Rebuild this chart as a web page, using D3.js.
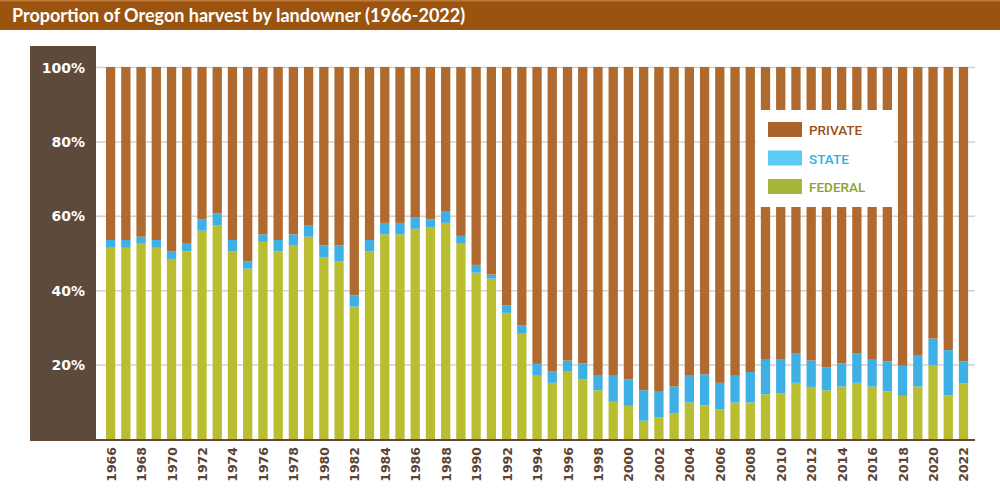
<!DOCTYPE html>
<html>
<head>
<meta charset="utf-8">
<script src="https://cdn.jsdelivr.net/npm/d3@7"></script>
<style>
  body { margin: 0; background: #ffffff; }
</style>
</head>
<body>
<div id="chart"></div>
<script>
// harvest share by landowner, percent of total
const years = [1966, 1967, 1968, 1969, 1970, 1971, 1972, 1973, 1974, 1975,
  1976, 1977, 1978, 1979, 1980, 1981, 1982, 1983, 1984, 1985,
  1986, 1987, 1988, 1989, 1990, 1991, 1992, 1993, 1994, 1995,
  1996, 1997, 1998, 1999, 2000, 2001, 2002, 2003, 2004, 2005,
  2006, 2007, 2008, 2009, 2010, 2011, 2012, 2013, 2014, 2015,
  2016, 2017, 2018, 2019, 2020, 2021, 2022]

const federal = [51.4, 51.4, 52.5, 51.4, 48.4, 50.4, 56.0, 57.5, 50.4, 45.8,
  53.0, 50.4, 52.0, 54.4, 48.9, 47.8, 35.6, 50.4, 55.0, 55.0,
  56.5, 57.0, 58.1, 52.5, 44.7, 43.1, 33.9, 28.3, 17.0, 15.1,
  18.1, 16.1, 13.1, 10.0, 8.9, 4.9, 5.8, 6.9, 9.8, 9.0,
  7.9, 9.8, 9.8, 12.0, 12.2, 15.1, 14.0, 13.1, 14.1, 15.1,
  14.1, 12.8, 11.6, 14.1, 19.9, 11.8, 14.9]

const state = [2.1, 2.1, 1.9, 2.1, 2.0, 2.1, 3.0, 3.1, 3.1, 2.0,
  2.0, 3.1, 3.0, 3.1, 3.1, 4.2, 3.0, 3.1, 3.1, 3.1,
  3.0, 2.0, 3.0, 2.1, 2.1, 1.1, 2.0, 2.2, 3.2, 3.0,
  3.0, 4.2, 4.1, 7.2, 7.1, 8.2, 7.1, 7.2, 7.2, 8.4,
  7.2, 7.2, 8.2, 9.3, 9.3, 8.0, 7.1, 6.2, 6.2, 8.0,
  7.2, 8.1, 8.1, 8.3, 7.1, 12.1, 6.0]

const seriesKeys = ["FEDERAL", "STATE", "PRIVATE"]
const legendKeys = ["PRIVATE", "STATE", "FEDERAL"]
const yTicks = [20, 40, 60, 80, 100]
const xTicks = years.filter(function(y) { return y % 2 == 0 })

const W = 1000, H = 503

let svg = d3.select("#chart")
  .append("svg")
  .attr("width", W)
  .attr("height", H)
  .style("display", "block")

// title band
svg.append("rect")
  .attr("x", 0).attr("y", 0)
  .attr("width", W).attr("height", 30)
  .style("fill", "#9b5410")
svg.append("rect")
  .attr("x", 0).attr("y", 0)
  .attr("width", W).attr("height", 1.5)
  .style("fill", "#c07a3a")
svg.append("text")
  .attr("x", 12)
  .attr("y", 22)
  .style("fill", "#ffffff")
  .style("font-family", "Lato, 'Open Sans', sans-serif")
  .style("font-weight", "bold")
  .style("font-size", "18px")
  .text("Proportion of Oregon harvest by landowner (1966-2022)")

// left dark panel behind the y labels
let plotLeft = 96, plotRight = 975, plotTop = 67, plotBottom = 439

svg.append("rect")
  .attr("x", 30).attr("y", 46)
  .attr("width", plotLeft - 30).attr("height", plotBottom - 46 + 1)
  .style("fill", "#5d4a3b")

let table = years.map(function(y, i) {
  return {
    year: y,
    FEDERAL: federal[i],
    STATE: state[i],
    PRIVATE: 100 - federal[i] - state[i]
  }
})

let x = d3.scaleBand()
  .domain(years)
  .range([103, 971.1])
  .paddingInner(0.39)
  .paddingOuter(0.195)

let y = d3.scaleLinear()
  .domain([0, 100])
  .range([plotBottom, plotTop])

let color = d3.scaleOrdinal()
  .domain(seriesKeys)
  .range(["#b9be31", "#3fb0e4", "#b06a2f"])

// gridlines
let grid = svg.append("g")
  .attr("class", "grid")
  .attr("transform", "translate(" + plotLeft + ",0)")
  .call(d3.axisRight(y).tickValues(yTicks).tickSize(plotRight - plotLeft).tickFormat(""))
grid.select(".domain").remove()
grid.selectAll("line")
  .style("stroke", "#d2d2d2")
  .style("stroke-width", 1.5)

// stacked bars
let stacked = d3.stack().keys(seriesKeys)(table)

svg.append("g")
  .selectAll("g")
  .data(stacked)
  .enter().append("g")
  .style("fill", function(d) { return color(d.key) })
  .selectAll("rect")
  .data(function(d) { return d })
  .enter().append("rect")
  .attr("x", function(d) { return x(d.data.year) })
  .attr("y", function(d) { return y(d[1]) })
  .attr("width", x.bandwidth())
  .attr("height", function(d) { return y(d[0]) - y(d[1]) })

// y labels on the dark panel
let yAxis = svg.append("g")
  .attr("transform", "translate(85,0)")
  .call(d3.axisLeft(y).tickValues(yTicks).tickSize(0).tickPadding(0)
    .tickFormat(function(d) { return d + "%" }))
yAxis.select(".domain").remove()
yAxis.selectAll("text")
  .style("fill", "#ffffff")
  .style("font-family", "'DejaVu Sans', sans-serif")
  .style("font-weight", "bold")
  .style("font-size", "14px")
  .attr("dy", "0.36em")

// baseline
svg.append("line")
  .attr("x1", 30).attr("x2", plotRight)
  .attr("y1", plotBottom + 1).attr("y2", plotBottom + 1)
  .style("stroke", "#5d4a3b")
  .style("stroke-width", 2)

// x labels, rotated
let xAxis = svg.append("g")
  .attr("transform", "translate(0," + (plotBottom + 1) + ")")
  .call(d3.axisBottom(x).tickValues(xTicks).tickSize(0))
xAxis.select(".domain").remove()
xAxis.selectAll("text")
  .attr("transform", "rotate(-90)")
  .attr("x", -7)
  .attr("y", 5)
  .attr("dy", "0")
  .style("text-anchor", "end")
  .style("fill", "#5b4434")
  .style("font-family", "'DejaVu Sans', sans-serif")
  .style("font-weight", "bold")
  .style("font-size", "12.5px")

// legend box
let legend = svg.append("g").attr("class", "legend")
legend.append("rect")
  .attr("x", 756).attr("y", 110)
  .attr("width", 138).attr("height", 97)
  .style("fill", "#ffffff")

let legendSwatch = d3.scaleOrdinal()
  .domain(legendKeys)
  .range(["#a9622c", "#5ccaf5", "#a5b63a"])
let legendText = d3.scaleOrdinal()
  .domain(legendKeys)
  .range(["#9c5019", "#27b4ea", "#8da22b"])

let item = legend.selectAll(".item")
  .data(legendKeys)
  .enter().append("g")
  .attr("class", "item")
  .attr("transform", function(d, i) { return "translate(768," + (122 + i * 28.5) + ")" })

item.append("rect")
  .attr("width", 34)
  .attr("height", 15)
  .style("fill", function(d) { return legendSwatch(d) })

item.append("text")
  .attr("x", 41)
  .attr("y", 13)
  .style("fill", function(d) { return legendText(d) })
  .style("font-family", "Roboto, 'Liberation Sans', sans-serif")
  .style("font-weight", "500")
  .style("font-size", "13.5px")
  .text(function(d) { return d })
</script>
</body>
</html>
